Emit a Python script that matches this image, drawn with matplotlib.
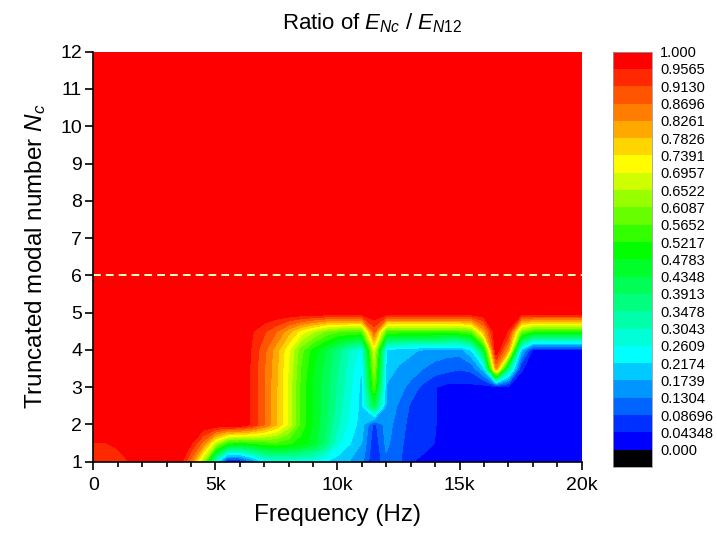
import numpy as np
import matplotlib
matplotlib.use("Agg")
import matplotlib.pyplot as plt
from matplotlib.colors import LinearSegmentedColormap

plt.rcParams['font.family'] = 'Liberation Sans'
plt.rcParams['mathtext.fontset'] = 'custom'
plt.rcParams['mathtext.rm'] = 'Liberation Sans'
plt.rcParams['mathtext.it'] = 'Liberation Sans:italic'

# frequency grid (kHz) and truncated modal numbers of the rows
freq_khz = [0, 0.5, 1, 1.5, 2, 2.5, 3, 3.5, 4, 4.5, 5, 5.5, 6, 6.5, 7, 7.5, 8, 8.5, 9, 9.5,
            10, 10.5, 11, 11.5, 12, 12.5, 13, 13.5, 14, 14.5, 15, 15.5, 16, 16.5, 17, 17.5,
            18, 18.5, 19, 19.5, 20]
nc_rows = [1, 1.5, 2, 2.5, 3, 3.5, 4, 4.5, 5, 12]

# ratio E_Nc / E_N12, one list per row
ratio_nc1 = [0.93, 0.93, 0.935, 0.957, 1, 1, 1, 0.985, 0.85, 0.62, 0.25, 0.01, 0.03, 0.12, 0.22, 0.25, 0.26, 0.25, 0.24, 0.22,
             0.19, 0.17, 0.14, 0.04, 0.12, 0.095, 0.045, 0.035, 0.03, 0.015, 0.015, 0.015, 0.015, 0.015, 0.015, 0.015,
             0.015, 0.015, 0.015, 0.015, 0.015]
ratio_nc1_5 = [0.953, 0.955, 0.965, 1, 1, 1, 1, 1, 0.96, 0.85, 0.66, 0.52, 0.5, 0.52, 0.54, 0.55, 0.53, 0.5, 0.46, 0.38,
               0.27, 0.22, 0.17, 0.05, 0.14, 0.10, 0.065, 0.055, 0.042, 0.015, 0.015, 0.015, 0.015, 0.015, 0.015, 0.015,
               0.015, 0.015, 0.015, 0.015, 0.015]
ratio_nc2 = [1, 1, 1, 1, 1, 1, 1, 1, 1, 1, 1, 1, 1, 0.945, 0.87, 0.785, 0.68, 0.55, 0.47, 0.40,
             0.31, 0.25, 0.19, 0.07, 0.15, 0.11, 0.07, 0.06, 0.045, 0.015, 0.015, 0.015, 0.015, 0.015, 0.015, 0.015,
             0.015, 0.015, 0.015, 0.015, 0.015]
ratio_nc2_5 = [1, 1, 1, 1, 1, 1, 1, 1, 1, 1, 1, 1, 1, 0.945, 0.87, 0.785, 0.68, 0.55, 0.47, 0.41,
               0.33, 0.26, 0.20, 0.42, 0.16, 0.125, 0.08, 0.065, 0.045, 0.015, 0.015, 0.015, 0.015, 0.015, 0.015, 0.015,
               0.015, 0.015, 0.015, 0.015, 0.015]
ratio_nc3 = [1, 1, 1, 1, 1, 1, 1, 1, 1, 1, 1, 1, 1, 0.945, 0.87, 0.785, 0.68, 0.55, 0.47, 0.41,
             0.34, 0.27, 0.20, 0.56, 0.17, 0.15, 0.11, 0.075, 0.045, 0.03, 0.03, 0.03, 0.02, 0.01, 0.02, 0.02,
             0.015, 0.015, 0.015, 0.015, 0.015]
ratio_nc3_5 = [1, 1, 1, 1, 1, 1, 1, 1, 1, 1, 1, 1, 1, 0.945, 0.87, 0.79, 0.69, 0.56, 0.48, 0.42,
               0.35, 0.28, 0.21, 0.62, 0.19, 0.17, 0.16, 0.13, 0.11, 0.10, 0.09, 0.10, 0.2, 0.82, 0.35, 0.05,
               0.02, 0.02, 0.02, 0.02, 0.02]
ratio_nc4 = [1, 1, 1, 1, 1, 1, 1, 1, 1, 1, 1, 1, 1, 0.95, 0.88, 0.80, 0.70, 0.58, 0.50, 0.44,
             0.37, 0.30, 0.25, 0.68, 0.21, 0.19, 0.18, 0.17, 0.16, 0.15, 0.15, 0.22, 0.45, 1.0, 0.8, 0.2,
             0.03, 0.03, 0.03, 0.03, 0.03]
ratio_nc4_5 = [1, 1, 1, 1, 1, 1, 1, 1, 1, 1, 1, 1, 1, 0.96, 0.92, 0.87, 0.80, 0.72, 0.66, 0.60,
               0.57, 0.56, 0.56, 0.88, 0.55, 0.55, 0.55, 0.55, 0.55, 0.55, 0.55, 0.58, 0.8, 1.0, 0.95, 0.6,
               0.52, 0.52, 0.52, 0.52, 0.52]
ratio_full = [1.0] * len(freq_khz)   # Nc = 5 ... 12 is converged everywhere

cutoff_nc = 6

x_ticks = [0, 5000, 10000, 15000, 20000]
x_ticklabels = ["0", "5k", "10k", "15k", "20k"]
cbar_labels = ["0.000", "0.04348", "0.08696", "0.1304", "0.1739", "0.2174", "0.2609", "0.3043",
               "0.3478", "0.3913", "0.4348", "0.4783", "0.5217", "0.5652", "0.6087", "0.6522",
               "0.6957", "0.7391", "0.7826", "0.8261", "0.8696", "0.9130", "0.9565", "1.000"]

freq = np.array(freq_khz) * 1000
Z = np.array([ratio_nc1, ratio_nc1_5, ratio_nc2, ratio_nc2_5, ratio_nc3, ratio_nc3_5,
              ratio_nc4, ratio_nc4_5, ratio_full, ratio_full])

# 23 rainbow bands between 0 and 1, plus a black band below 0
levels = np.concatenate([[-1 / 23], np.linspace(0, 1, 24)])
rainbow = LinearSegmentedColormap.from_list(
    "rb", [(0, "#0000ff"), (5 / 22, "#00ffff"), (11 / 22, "#00ff00"), (16 / 22, "#ffff00"), (1, "#ff0000")])
band_colors = ["black"] + [rainbow(i / 22) for i in range(23)]

fig = plt.figure(figsize=(7.17, 5.37), dpi=100)
ax = fig.add_axes([0.1301, 0.1402, 0.6812, 0.7635])

cs = ax.contourf(freq, nc_rows, Z, levels=levels, colors=band_colors)
cs.set_edgecolor("face")
cs.set_linewidth(0.4)

ax.axhline(cutoff_nc, color="#ffffc8", lw=1.4, dashes=(4, 2.6))

ax.set_xlim(0, 20000)
ax.set_ylim(1, 12)
ax.set_xticks(x_ticks)
ax.set_xticklabels(x_ticklabels)
ax.set_xticks(np.arange(0, 20001, 1000), minor=True)
ax.set_yticks(range(1, 13))
ax.tick_params(axis="both", which="major", direction="out", length=6, width=1.2, labelsize=14)
ax.tick_params(axis="x", which="major", pad=5)
ax.tick_params(axis="y", which="major", pad=2)
ax.tick_params(axis="x", which="minor", direction="out", length=3.5, width=1.2)
for side in ["top", "right"]:
    ax.spines[side].set_visible(False)
for side in ["left", "bottom"]:
    ax.spines[side].set_linewidth(1.2)

ax.set_xlabel("Frequency (Hz)", fontsize=17.5, labelpad=7)
ax.set_ylabel("Truncated modal number $N_c$", fontsize=17.5, labelpad=9)

fig.text(0.519, 0.946, r"Ratio of $E_{Nc}$ / $E_{\mathit{N12}}$", fontsize=16,
         ha="center", va="baseline")

# colour scale
cax = fig.add_axes([0.855, 0.1304, 0.0544, 0.7734])
cb = fig.colorbar(cs, cax=cax, ticks=np.linspace(0, 1, 24))
cb.set_ticklabels(cbar_labels)
cax.tick_params(length=0, labelsize=10.5, pad=6)
cb.outline.set_edgecolor("#999999")
cb.outline.set_linewidth(0.6)

fig.savefig("out.png", dpi=100)
